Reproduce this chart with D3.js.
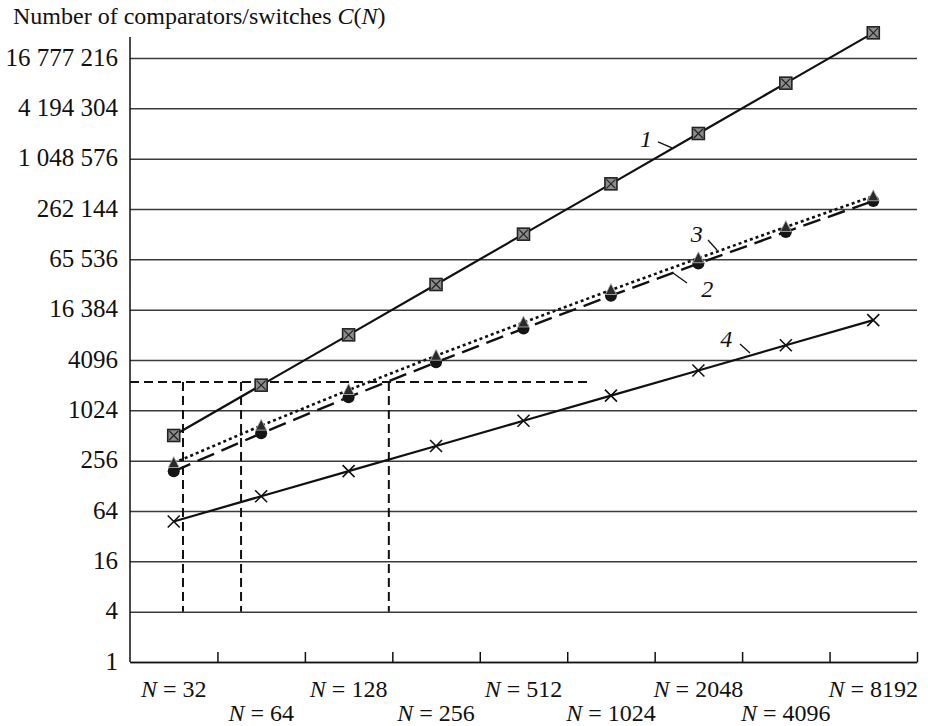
<!DOCTYPE html>
<html>
<head>
<meta charset="utf-8">
<script src="https://cdn.jsdelivr.net/npm/d3@7"></script>
<style>
  body { margin: 0; background: #fff; }
  text { font-family: "Liberation Serif", "Times New Roman", serif; fill: #111; }
</style>
</head>
<body>
<div class="svg-container"></div>
<script>
document.addEventListener("DOMContentLoaded", () => {

  // network size N, as log2 N
  let logN = [5, 6, 7, 8, 9, 10, 11, 12, 13];
  let nLabels = ["32", "64", "128", "256", "512", "1024", "2048", "4096", "8192"];

  // number of comparators/switches C(N)
  let curve1 = [512, 2048, 8192, 32768, 131072, 524288, 2097152, 8388608, 33554432];
  let curve2 = [191, 543, 1471, 3839, 9727, 24063, 58367, 139263, 327679];
  let curve3 = [240, 672, 1792, 4608, 11520, 28160, 67584, 159744, 372736];
  let curve4 = [48, 96, 192, 384, 768, 1536, 3072, 6144, 12288];

  let yTicks = [1, 4, 16, 64, 256, 1024, 4096, 16384, 65536, 262144, 1048576, 4194304, 16777216];
  let yTickLabels = ["1", "4", "16", "64", "256", "1024", "4096", "16 384", "65 536", "262 144", "1 048 576", "4 194 304", "16 777 216"];

  // dashed reference lines
  let refLevel = 2235;
  let refEnd = 9.76;
  let refCross = [5.106, 5.77, 7.46];
  let refBottom = 4;

  // curve labels: text position and leader line (log2 N, power of 4)
  let curveLabels = [
    { t: "1", x: 10.40, p: 10.23, lead: [[10.538, 10.332], [10.698, 10.213]] },
    { t: "3", x: 10.98, p: 8.345, lead: [[11.110, 8.385], [11.213, 8.186]] },
    { t: "2", x: 11.10, p: 7.252, lead: [[10.710, 7.729], [10.870, 7.530]] },
    { t: "4", x: 11.32, p: 6.259, lead: [[11.476, 6.318], [11.590, 6.139]] }
  ];

  let width = 928,
    height = 726,
    left = 130,
    right = 917,
    bottom = 662,
    top = 58;

  let svg = d3.select(".svg-container").append("svg")
    .attr("width", width)
    .attr("height", height);

  const x = d3.scaleLinear()
    .domain([4.5, 13.5])
    .range([left, right]);

  const y = d3.scaleLog()
    .base(4)
    .domain([1, 16777216])
    .range([bottom, top]);

  //Gridlines and y labels
  const yAxis = d3.axisLeft(y)
    .tickValues(yTicks)
    .tickSizeInner(-(right - left))
    .tickSizeOuter(0)
    .tickPadding(12)
    .tickFormat((d, i) => yTickLabels[i]);

  let gy = svg.append("g")
    .attr("transform", "translate(" + left + ",0)")
    .call(yAxis);
  gy.select(".domain").remove();
  gy.selectAll(".tick line")
    .attr("stroke", "#3a3a3a")
    .attr("stroke-width", 1.5);
  gy.selectAll(".tick text")
    .attr("dy", 7)
    .style("font-size", "25px")
    .style("font-family", "Liberation Serif, serif")
    .attr("fill", "#111");

  //X axis with upward ticks between categories
  const xAxis = d3.axisBottom(x)
    .tickValues(logN.map(d => d + 0.5))
    .tickSizeInner(-10)
    .tickSizeOuter(0)
    .tickFormat("");

  let gx = svg.append("g")
    .attr("transform", "translate(0," + bottom + ")")
    .call(xAxis);
  gx.select(".domain").attr("stroke", "#111").attr("stroke-width", 1.5);
  gx.selectAll(".tick line").attr("stroke", "#111").attr("stroke-width", 1.5);

  //Left axis line
  svg.append("line")
    .attr("x1", left).attr("x2", left)
    .attr("y1", bottom).attr("y2", y(16777216) - 21)
    .attr("stroke", "#111")
    .attr("stroke-width", 1.5);

  //X labels in two rows
  let xl = svg.append("g");
  logN.forEach((d, i) => {
    let t = xl.append("text")
      .attr("x", x(d))
      .attr("y", i % 2 === 0 ? 697 : 721)
      .attr("text-anchor", "middle")
      .style("font-size", "24px");
    t.append("tspan").style("font-style", "italic").text("N");
    t.append("tspan").text(" = " + nLabels[i]);
  });

  //Title
  let title = svg.append("text")
    .attr("x", 13)
    .attr("y", 24)
    .style("font-size", "24px");
  title.append("tspan").text("Number of comparators/switches ");
  title.append("tspan").style("font-style", "italic").text("C");
  title.append("tspan").text("(");
  title.append("tspan").style("font-style", "italic").text("N");
  title.append("tspan").text(")");

  //Dashed reference lines
  let ref = svg.append("g")
    .attr("stroke", "#111")
    .attr("stroke-width", 2)
    .attr("stroke-dasharray", "9,5")
    .attr("fill", "none");
  ref.append("line")
    .attr("x1", left).attr("x2", x(refEnd))
    .attr("y1", y(refLevel)).attr("y2", y(refLevel));
  refCross.forEach(d => {
    ref.append("line")
      .attr("x1", x(d)).attr("x2", x(d))
      .attr("y1", y(refLevel)).attr("y2", y(refBottom));
  });

  //Curves
  const line = d3.line()
    .x((d, i) => x(logN[i]))
    .y(d => y(d));

  svg.append("path").attr("d", line(curve1))
    .attr("fill", "none").attr("stroke", "#111").attr("stroke-width", 2.2);
  svg.append("path").attr("d", line(curve4))
    .attr("fill", "none").attr("stroke", "#111").attr("stroke-width", 2.2);
  svg.append("path").attr("d", line(curve2))
    .attr("fill", "none").attr("stroke", "#111").attr("stroke-width", 2.4)
    .attr("stroke-dasharray", "18,8");
  svg.append("path").attr("d", line(curve3))
    .attr("fill", "none").attr("stroke", "#111").attr("stroke-width", 2.6)
    .attr("stroke-dasharray", "3,3");

  //Markers curve 1: boxed cross
  let m1 = svg.selectAll(".m1")
    .data(curve1)
    .enter()
    .append("g")
    .attr("class", "m1")
    .attr("transform", (d, i) => "translate(" + x(logN[i]) + "," + y(d) + ")");
  m1.append("rect")
    .attr("x", -6).attr("y", -6)
    .attr("width", 12).attr("height", 12)
    .attr("fill", "#8c8c8c")
    .attr("stroke", "#222")
    .attr("stroke-width", 1.6);
  m1.append("path")
    .attr("d", "M-4.5,-4.5L4.5,4.5M4.5,-4.5L-4.5,4.5")
    .attr("stroke", "#222")
    .attr("stroke-width", 1.2);

  //Markers curve 4: crosses
  svg.selectAll(".m4")
    .data(curve4)
    .enter()
    .append("path")
    .attr("class", "m4")
    .attr("transform", (d, i) => "translate(" + x(logN[i]) + "," + y(d) + ")")
    .attr("d", "M-6,-6L6,6M6,-6L-6,6")
    .attr("stroke", "#111")
    .attr("stroke-width", 1.6);

  //Markers curve 2: circles
  svg.selectAll(".m2")
    .data(curve2)
    .enter()
    .append("circle")
    .attr("class", "m2")
    .attr("cx", (d, i) => x(logN[i]))
    .attr("cy", d => y(d))
    .attr("r", 6)
    .attr("fill", "#151515");

  //Markers curve 3: triangles
  svg.selectAll(".m3")
    .data(curve3)
    .enter()
    .append("path")
    .attr("class", "m3")
    .attr("transform", (d, i) => "translate(" + x(logN[i]) + "," + y(d) + ")")
    .attr("d", "M0,-6.5L5.5,4.5L-5.5,4.5Z")
    .attr("fill", "#2a2a2a")
    .attr("stroke", "#bbb")
    .attr("stroke-width", 0.8);

  //Curve labels with leader lines
  curveLabels.forEach(l => {
    svg.append("text")
      .attr("x", x(l.x))
      .attr("y", y(Math.pow(4, l.p)))
      .attr("text-anchor", "middle")
      .style("font-size", "24px")
      .style("font-style", "italic")
      .text(l.t);
    svg.append("line")
      .attr("x1", x(l.lead[0][0])).attr("y1", y(Math.pow(4, l.lead[0][1])))
      .attr("x2", x(l.lead[1][0])).attr("y2", y(Math.pow(4, l.lead[1][1])))
      .attr("stroke", "#111")
      .attr("stroke-width", 1.3);
  });

})
</script>
</body>
</html>
